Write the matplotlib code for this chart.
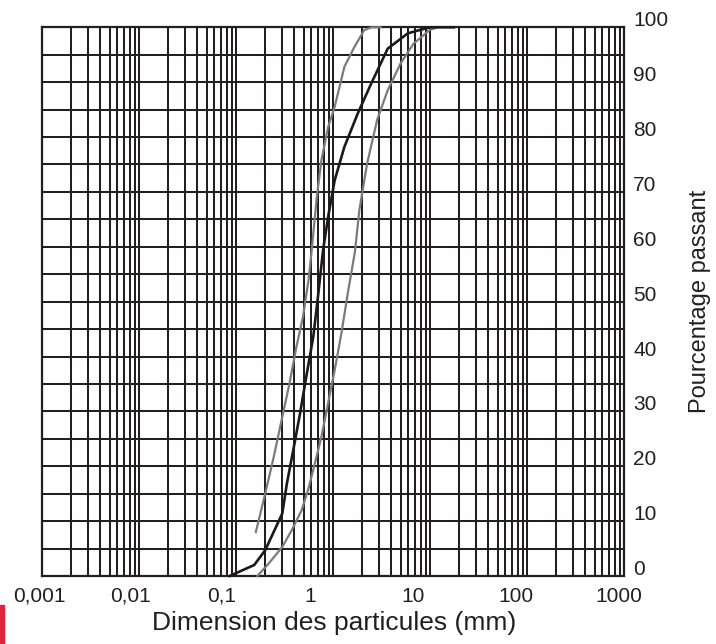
import numpy as np
import matplotlib.pyplot as plt
from matplotlib import transforms
from matplotlib.patches import Rectangle

plt.rcParams['font.family'] = ['Liberation Sans', 'DejaVu Sans']

# courbe granulometrique fine (grise, gauche)
d_fin = [0.16, 0.20, 0.245, 0.30, 0.355, 0.42, 0.49, 0.56, 0.60, 0.68, 0.76,
         0.89, 1.04, 1.31, 1.66, 2.1, 2.5, 3.1]
p_fin = [8, 15, 21.7, 29, 35, 41.8, 47.2, 54, 59, 69, 75.8,
         81.8, 85.5, 92.8, 96.4, 99.5, 100, 100]

# courbe moyenne (noire)
d_moy = [0.086, 0.154, 0.20, 0.30, 0.335, 0.39, 0.457, 0.53, 0.626, 0.70, 0.79,
         0.89, 1.04, 1.31, 1.8, 2.47, 3.66, 5.9, 9.9, 17.6]
p_moy = [0, 2, 4.7, 11.4, 16.9, 23, 29.6, 36.3, 43.6, 50.9, 59.4,
         65.4, 72.1, 78.2, 84.3, 89.7, 96.1, 98.9, 100, 100]

# courbe grossiere (grise, droite)
d_gro = [0.166, 0.218, 0.30, 0.377, 0.475, 0.554, 0.65, 0.76, 0.89, 1.04, 1.22,
         1.42, 1.68, 1.87, 2.25, 2.85, 3.66, 4.97, 6.75, 9.9, 12]
p_gro = [0, 2.3, 5.3, 8.4, 12, 15.7, 20.5, 25.4, 31.5, 37.5, 44.2,
         51.5, 59, 66.7, 75.2, 83.1, 88.5, 93.4, 97, 99.5, 100]

x_ticks = [0.001, 0.01, 0.1, 1, 10, 100, 1000]
x_labels = ['0,001', '0,01', '0,1', '1', '10', '100', '1000']
y_ticks = [0, 10, 20, 30, 40, 50, 60, 70, 80, 90, 100]

grid_col = '#231f20'
gris = '#7b7b7b'

fig = plt.figure(figsize=(7.16, 6.44), dpi=100)
ax = fig.add_axes([42/716, 1-576/644, 582/716, 548.7/644])

ax.set_xscale('log')
ax.set_xlim(1e-3, 1e3)
ax.set_ylim(0, 100)

# quadrillage : toutes les graduations log et tous les 5 %
ax.set_xticks(x_ticks)
ax.set_xticks([m*10.0**e for e in range(-3, 3) for m in range(2, 10)], minor=True)
ax.set_yticks(np.arange(0, 101, 5))
ax.grid(True, which='both', color=grid_col, linewidth=1.45)
ax.tick_params(which='both', length=0, labelbottom=False, labelleft=False)
for s in ax.spines.values():
    s.set_color(grid_col)
    s.set_linewidth(1.6)
ax.set_axisbelow(True)

ax.plot(d_fin, p_fin, color=gris, lw=1.6, zorder=3, clip_on=False)
ax.plot(d_gro, p_gro, color=gris, lw=1.6, zorder=3, clip_on=False)
ax.plot(d_moy, p_moy, color='#1a1a1a', lw=1.9, zorder=4, clip_on=False)

# etiquettes, decalees comme sur l'original
off_x = transforms.ScaledTranslation(-29/100, -25.5/100, fig.dpi_scale_trans)
for v, lab in zip(x_ticks, x_labels):
    ax.text(v, 0, lab, transform=ax.get_xaxis_transform() + off_x,
            ha='left', va='baseline', fontsize=15, color='#231f20')

off_y = transforms.ScaledTranslation(9/100, 1/100, fig.dpi_scale_trans)
for v in y_ticks:
    ax.text(1, v, str(v), transform=ax.get_yaxis_transform() + off_y,
            ha='left', va='baseline', fontsize=15, color='#231f20')

fig.text(334/716, 1-630/644, 'Dimension des particules (mm)', ha='center',
         va='baseline', fontsize=19, color='#231f20')
fig.text(700/716, 1-301/644, 'Pourcentage passant', rotation=90, ha='center',
         va='center', fontsize=17, color='#231f20')

fig.patches.append(Rectangle((0, 0), 4/716, 39/644, transform=fig.transFigure,
                             color='#d7263d', figure=fig))

fig.savefig('out.png', dpi=100)
